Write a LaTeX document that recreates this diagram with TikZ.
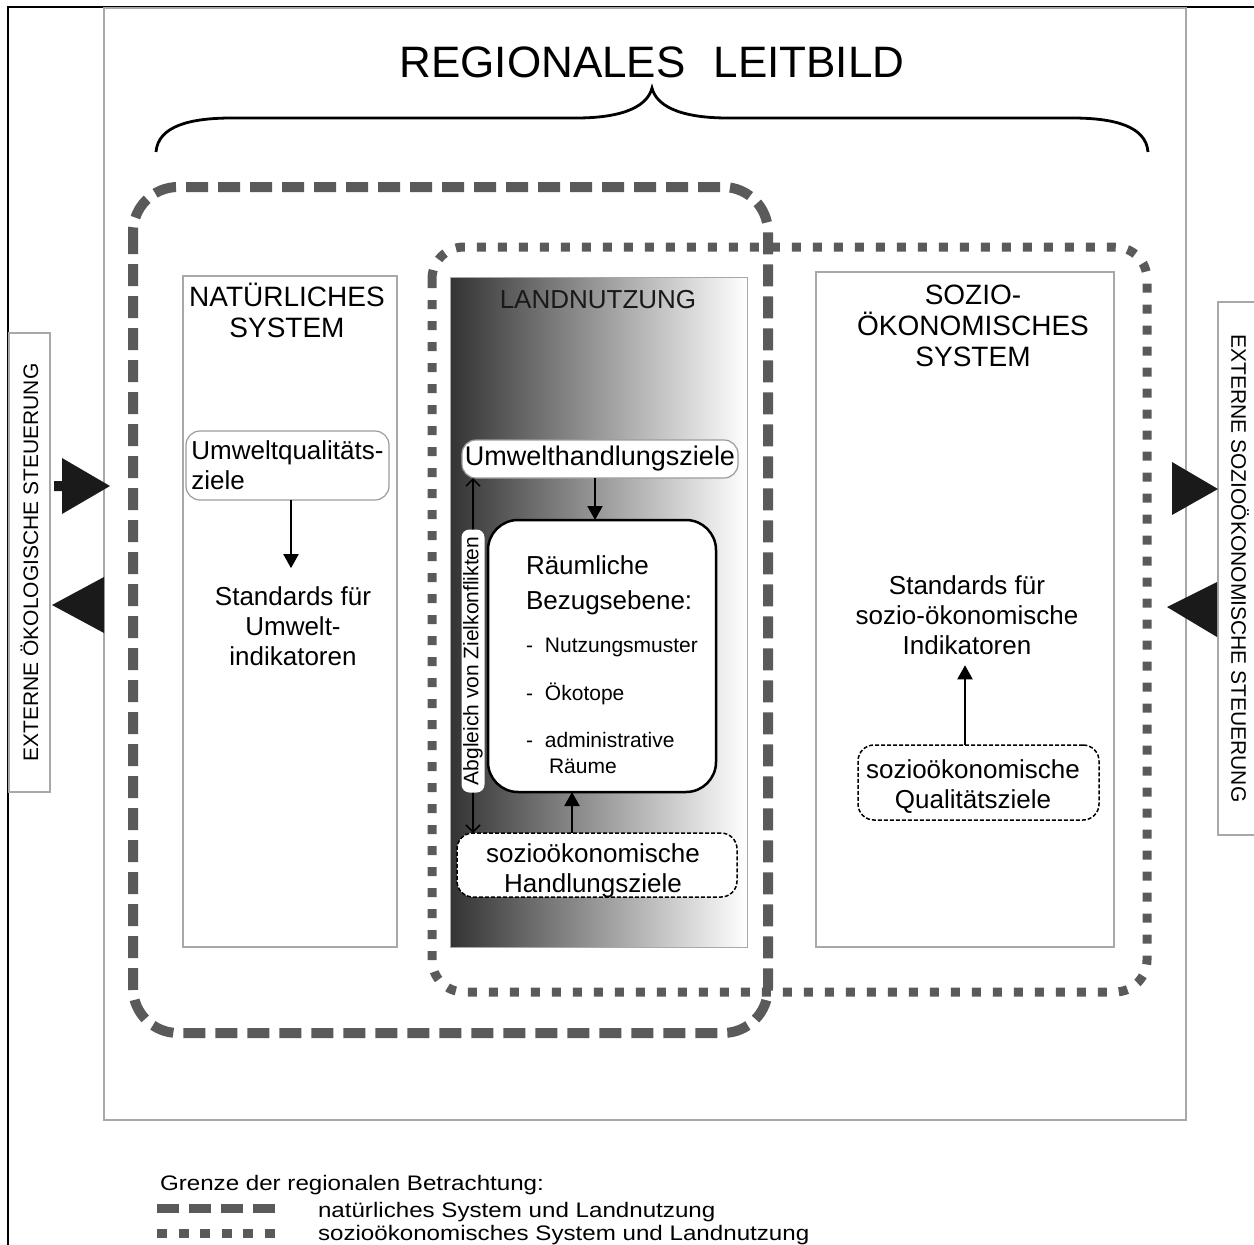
\documentclass[tikz,border=0pt]{standalone}
\usepackage{fontspec}
\setmainfont{Liberation Sans}
\usetikzlibrary{arrows.meta,calc}
\definecolor{dashgray}{HTML}{5A5A5A}
\definecolor{framegray}{HTML}{A8A8A8}
\definecolor{boxgray}{HTML}{9C9C9C}
\definecolor{tipblack}{HTML}{1A1A1A}
\newcommand{\fs}[2]{\fontsize{#1}{#2}\selectfont}

\begin{document}
\begin{tikzpicture}[x=1pt,y=-1pt,
  every node/.style={inner sep=0pt, outer sep=0pt},
  natline/.style={draw=dashgray, line width=10pt, dash pattern=on 22pt off 10pt},
  socline/.style={draw=dashgray, line width=9pt, dash pattern=on 9pt off 12pt},
  sysbox/.style={draw=framegray, line width=1.2pt, anchor=north west},
  goalbox/.style={draw=boxgray, line width=1.2pt, rounded corners=14pt, fill=white},
  dashbox/.style={draw=black, line width=1.5pt, dash pattern=on 4pt off 2pt, rounded corners=16pt, fill=white},
  arr/.style={line width=2pt, -{Triangle[length=14pt,width=15pt]}},
  big/.style={font=\fs{26}{30}, align=center},
  head/.style={font=\fs{28}{31}, align=center},
  small/.style={font=\fs{21}{25}},
  extlabel/.style={draw=framegray, line width=1.2pt, font=\fs{21}{24}},
  legendtext/.style={font=\fs{21}{24}, anchor=base west},
  ]
\useasboundingbox (0,0) rectangle (1254,1245);

% outer frames
\draw[line width=1.6pt] (8,1250) -- (8,7) -- (1260,7);
\draw[framegray, line width=2pt] (104,8) rectangle (1186,1120);

% title and brace
\node[font=\fs{44}{50}, anchor=base] (title) at (652,77) {REGIONALES\hspace{28pt}LEITBILD};
\draw[line width=2.8pt] (156,152) .. controls (158,126) and (190,118) .. (232,118) -- (576,118)
  .. controls (628,118) and (648,104) .. (652,88)
  .. controls (656,104) and (676,118) .. (728,118) -- (1072,118)
  .. controls (1114,118) and (1146,126) .. (1148,152);

% boundaries of the regional view
\draw[natline, rounded corners=45pt] (133,187) rectangle (768,1033);
\draw[socline, rounded corners=32pt] (432,247) rectangle (1147,992);

% the three columns
\node[sysbox, minimum width=214pt, minimum height=671pt] (nat) at (183,276) {};
\node[sysbox, minimum width=298pt, minimum height=675pt] (soz) at (816,272) {};
\node[anchor=north west, minimum width=297pt, minimum height=670pt,
      left color=black!80, right color=white, draw=framegray, line width=0.8pt] (land) at (450,277) {};

% multi-line nodes are placed by the baseline of their last line
\node[head, anchor=base] (natH) at (287,337) {NATÜRLICHES\\SYSTEM};
\node[font=\fs{26}{30}, anchor=base, text=black!90] (landH) at (598,308) {LANDNUTZUNG};
\node[head, anchor=base] (sozHd) at (973,366) {SOZIO-\\ÖKONOMISCHES\\SYSTEM};

% natural system
\node[goalbox, minimum width=203pt, minimum height=69pt, inner sep=4pt, align=left, font=\fs{26}{30}] (umwQ) at (287.5,465.5) {Umweltqualitäts-\\ziele};
\node[big, anchor=base] (stdU) at (293,665) {Standards für\\Umwelt-\\indikatoren};
\coordinate (nx) at (291,0);
\draw[arr, shorten >=18pt] (umwQ.south -| nx) -- (stdU.north -| nx);

% land use
\node[goalbox, minimum width=276pt, minimum height=38pt, font=\fs{27}{30}] (umwH) at (600,459) {Umwelthandlungsziele};
\node[draw=black, line width=2.5pt, rounded corners=30pt, fill=white, minimum width=228pt, minimum height=272pt] (raum) at (602,656) {};
\node[font=\fs{26}{30}, anchor=base west] (r1) at (526,574) {Räumliche};
\node[font=\fs{26}{30}, anchor=base west] (r2) at (526,609) {Bezugsebene:};
\node[small, anchor=base west] (l1) at (526,652) {\makebox[19pt][l]{-}Nutzungsmuster};
\node[small, anchor=base west] (l2) at (526,700) {\makebox[19pt][l]{-}Ökotope};
\node[small, anchor=base west] (l3) at (526,747) {\makebox[19pt][l]{-}administrative};
\node[small, anchor=base west] (l4) at (549,773) {Räume};

\node[dashbox, minimum width=280pt, minimum height=64pt] (sozH) at (597,865) {};
\node[big, anchor=base] (sozHt) at (593,892) {sozioökonomische\\Handlungsziele};

\coordinate (cx) at (595,0);
\coordinate (cx2) at (572,0);
\coordinate (ax) at (473,0);
\draw[arr] (umwH.south -| cx) -- (raum.north -| cx);
\draw[arr] (sozH.north -| cx2) -- (raum.south -| cx2);
\draw[line width=1.5pt, {Straight Barb[length=7pt,width=14pt]}-{Straight Barb[length=7pt,width=14pt]}]
  (umwH.south -| ax) -- (sozH.north -| ax);
\node[fill=white, rounded corners=8pt, rotate=90, minimum width=263pt, minimum height=23pt, font=\fs{21}{24}] (abg) at (473,661) {Abgleich von Zielkonflikten};

% socio-economic system
\node[big, anchor=base] (stdS) at (967,654) {Standards für\\sozio-ökonomische\\Indikatoren};
\node[dashbox, minimum width=241pt, minimum height=75pt] (qualS) at (978.5,782.5) {};
\node[big, anchor=base] (qualSt) at (973,808) {sozioökonomische\\Qualitätsziele};
\coordinate (sx) at (965,0);
\draw[arr, shorten >=11pt] (qualS.north -| sx) -- (stdS.south -| sx);

% external steering
\node[extlabel, rotate=90, minimum width=459pt, minimum height=41pt] (extO) at (29.5,562.5) {EXTERNE ÖKOLOGISCHE STEUERUNG};
\node[extlabel, rotate=-90, minimum width=533pt, minimum height=44pt] (extS) at (1240,568.5) {EXTERNE SOZIOÖKONOMISCHE STEUERUNG};
\fill[tipblack] (54,481) -- (62,481) -- (62,458) -- (110,486) -- (62,514) -- (62,491) -- (54,491) -- cycle;
\fill[tipblack] (52,605) -- (104,577) -- (104,633) -- cycle;
\fill[tipblack] (1172,462) -- (1218,489) -- (1172,515) -- cycle;
\fill[tipblack] (1167,607) -- (1217,582) -- (1217,637) -- cycle;

% legend
\node[legendtext] (lg0) at (160,1190) {\scalebox{1.15}[1]{Grenze der regionalen Betrachtung:}};
\draw[natline, line width=9pt] (157,1208) -- (275,1208);
\node[legendtext] (lg1) at (318,1217) {\scalebox{1.15}[1]{natürliches System und Landnutzung}};
\draw[socline, dash pattern=on 10pt off 11.6pt] (157,1233) -- (275,1233);
\node[legendtext] (lg2) at (318,1240) {\scalebox{1.15}[1]{sozioökonomisches System und Landnutzung}};
\end{tikzpicture}
\end{document}
